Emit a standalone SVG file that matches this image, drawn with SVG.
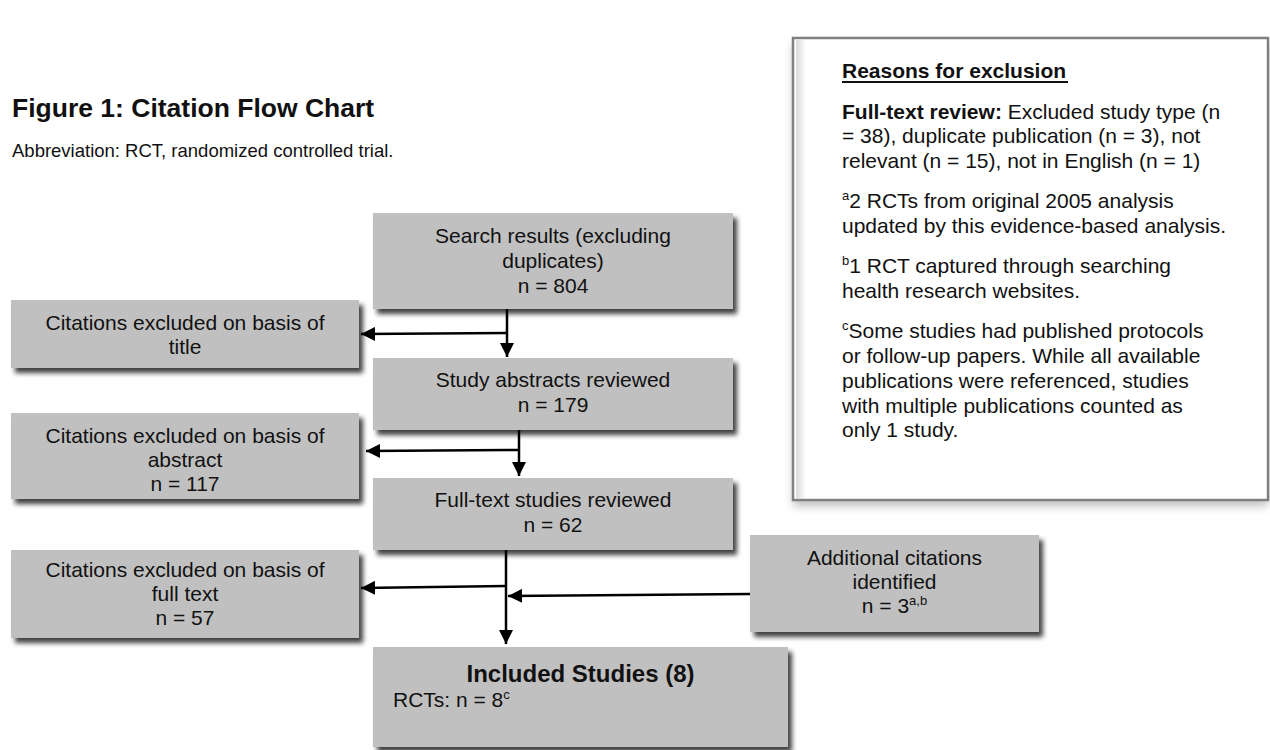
<svg xmlns="http://www.w3.org/2000/svg" width="1270" height="750" viewBox="0 0 1270 750">
<style>
text{font-family:"Liberation Sans",Arial,sans-serif;fill:#111}
.t{font-size:21px;text-anchor:middle}
.l{font-size:21px}
.b{font-weight:bold}
.box{fill:#c0c0c0;filter:url(#sh)}
.con{stroke:#000;stroke-width:2.5;fill:none;marker-end:url(#ah)}
.sup{font-size:13px}
</style>
<defs>
<filter id="sh" x="-10%" y="-10%" width="130%" height="140%">
<feDropShadow dx="4" dy="5" stdDeviation="2.5" flood-color="#000" flood-opacity="0.75"/>
</filter>
<filter id="sh2" x="-10%" y="-10%" width="130%" height="130%">
<feDropShadow dx="0" dy="6" stdDeviation="5" flood-color="#000" flood-opacity="0.25"/>
</filter>
<linearGradient id="ig" x1="0" x2="1" y1="0" y2="0">
<stop offset="0" stop-color="#d8d8d8"/><stop offset="1" stop-color="#fff"/>
</linearGradient>
<marker id="ah" markerUnits="userSpaceOnUse" viewBox="0 0 14 14" markerWidth="14" markerHeight="14" refX="14" refY="7" orient="auto">
<path d="M0,0 L14,7 L0,14 z" fill="#000"/>
</marker>
</defs>
<rect width="1270" height="750" fill="#fff"/>
<g id="heading">
<text x="12" y="117" class="b" style="font-size:26.5px">Figure 1: Citation Flow Chart</text>
<text x="12" y="157" style="font-size:18.5px">Abbreviation: RCT, randomized controlled trial.</text>
</g>
<g id="reasons">
<rect x="793" y="38" width="475" height="462" fill="#fff" filter="url(#sh2)"/>
<rect x="796" y="40" width="10" height="458" fill="url(#ig)"/>
<rect x="793" y="38" width="475" height="462" fill="none" stroke="#808080" stroke-width="2.5"/>
<text x="842" y="78" class="l b">Reasons for exclusion</text>
<line x1="842" y1="82" x2="1068" y2="82" stroke="#111" stroke-width="1.8"/>
<text x="842" y="119" class="l"><tspan class="b">Full-text review:</tspan> Excluded study type (n</text>
<text x="842" y="143" class="l">= 38), duplicate publication (n = 3), not</text>
<text x="842" y="168" class="l">relevant (n = 15), not in English (n = 1)</text>
<text x="842" y="208" class="l"><tspan class="sup" dy="-8">a</tspan><tspan dy="8">2 RCTs from original 2005 analysis</tspan></text>
<text x="842" y="233" class="l">updated by this evidence-based analysis.</text>
<text x="842" y="273" class="l"><tspan class="sup" dy="-8">b</tspan><tspan dy="8">1 RCT captured through searching</tspan></text>
<text x="842" y="298" class="l">health research websites.</text>
<text x="842" y="338" class="l"><tspan class="sup" dy="-8">c</tspan><tspan dy="8">Some studies had published protocols</tspan></text>
<text x="842" y="363" class="l">or follow-up papers. While all available</text>
<text x="842" y="388" class="l">publications were referenced, studies</text>
<text x="842" y="413" class="l">with multiple publications counted as</text>
<text x="842" y="437" class="l">only 1 study.</text>
</g>
<g id="search">
<rect class="box" x="373" y="213" width="360" height="96"/>
<text class="t" x="553" y="243">Search results (excluding</text>
<text class="t" x="553" y="268">duplicates)</text>
<text class="t" x="553" y="293">n = 804</text>
</g>
<g id="excl-title">
<rect class="box" x="11" y="300" width="348" height="68"/>
<text class="t" x="185" y="330">Citations excluded on basis of</text>
<text class="t" x="185" y="354">title</text>
</g>
<g id="abstracts">
<rect class="box" x="373" y="358" width="360" height="72"/>
<text class="t" x="553" y="387">Study abstracts reviewed</text>
<text class="t" x="553" y="412">n = 179</text>
</g>
<g id="excl-abstract">
<rect class="box" x="11" y="413" width="348" height="86"/>
<text class="t" x="185" y="443">Citations excluded on basis of</text>
<text class="t" x="185" y="467">abstract</text>
<text class="t" x="185" y="491">n = 117</text>
</g>
<g id="fulltext">
<rect class="box" x="373" y="478" width="360" height="72"/>
<text class="t" x="553" y="507">Full-text studies reviewed</text>
<text class="t" x="553" y="532">n = 62</text>
</g>
<g id="excl-fulltext">
<rect class="box" x="11" y="550" width="348" height="88"/>
<text class="t" x="185" y="577">Citations excluded on basis of</text>
<text class="t" x="185" y="601">full text</text>
<text class="t" x="185" y="625">n = 57</text>
</g>
<g id="additional">
<rect class="box" x="750" y="535" width="289" height="97"/>
<text class="t" x="894.5" y="565">Additional citations</text>
<text class="t" x="894.5" y="589">identified</text>
<text class="t" x="894.5" y="613">n = 3<tspan class="sup" dy="-8">a,b</tspan></text>
</g>
<g id="included">
<rect class="box" x="373" y="647" width="415" height="100"/>
<text x="580.5" y="682" class="b" style="font-size:24px;text-anchor:middle">Included Studies (8)</text>
<text x="393" y="707" class="l">RCTs: n = 8<tspan class="sup" dy="-8">c</tspan></text>
</g>
<g id="connectors">
<line class="con" x1="507" y1="309" x2="507" y2="357"/>
<line class="con" x1="507" y1="333" x2="361" y2="334"/>
<line class="con" x1="519" y1="430" x2="519" y2="476"/>
<line class="con" x1="519" y1="450" x2="366" y2="451"/>
<line class="con" x1="506" y1="550" x2="506" y2="644"/>
<line class="con" x1="506" y1="586" x2="361" y2="588"/>
<line class="con" x1="750" y1="594" x2="508" y2="596"/>
</g>
</svg>
